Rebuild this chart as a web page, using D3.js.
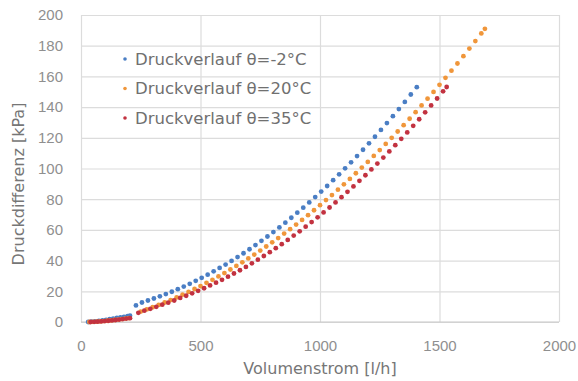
<!DOCTYPE html>
<html>
<head>
<meta charset="utf-8">
<script src="https://cdn.jsdelivr.net/npm/d3@7"></script>
<style>
  body { margin: 0; background: #fff; }
  svg { display: block; font-family: "Century Gothic", "DejaVu Sans", sans-serif; }
</style>
</head>
<body>
<div id="chart"></div>
<script>
// series names
const seriesNames = ["Druckverlauf θ=-2°C", "Druckverlauf θ=20°C", "Druckverlauf θ=35°C"];

// theta = -2 °C (blue)
const flowCold = [30, 45, 60, 75, 90, 105, 120, 135, 150, 165, 180, 195, 205,
  230, 255, 280, 305, 330, 355, 380, 405, 430, 455, 480, 505, 530, 555, 580, 605, 630, 655, 680,
  705, 730, 755, 780, 805, 830, 855, 880, 905, 930, 955, 980, 1005, 1030, 1055, 1080, 1105, 1130,
  1155, 1180, 1205, 1230, 1255, 1280, 1305, 1330, 1355, 1380, 1405];
const dpCold = [0, 0.2, 0.4, 0.7, 1.0, 1.4, 1.8, 2.2, 2.6, 3.0, 3.4, 3.8, 4.1,
  10.8, 12.7, 14.0, 15.3, 16.7, 18.2, 19.7, 21.4, 23.1, 24.9, 26.8, 28.8, 30.8, 33.0, 35.2, 37.4, 39.8, 42.3, 44.8,
  47.4, 50.1, 52.9, 55.7, 58.6, 61.6, 64.7, 67.9, 71.2, 74.5, 77.9, 81.4, 85.0, 88.6, 92.4, 96.2, 100.1, 104.0,
  108.1, 112.2, 116.4, 120.7, 125.1, 129.6, 134.1, 138.7, 143.4, 148.2, 153.0];

// theta = 20 °C (orange)
const flowMid = [35, 50, 65, 80, 95, 110, 125, 140, 155, 170, 185, 200,
  250, 275, 300, 325, 350, 375, 400, 425, 450, 475, 500, 525, 550, 575, 600, 625, 650, 675, 700,
  725, 750, 775, 800, 825, 850, 875, 900, 925, 950, 975, 1000, 1025, 1050, 1075, 1100, 1125, 1150,
  1175, 1200, 1225, 1250, 1275, 1300, 1325, 1350, 1375, 1400, 1425, 1450, 1475, 1500, 1525, 1550,
  1575, 1600, 1625, 1650, 1675, 1690];
const dpMid = [0, 0.1, 0.2, 0.4, 0.6, 0.8, 1.0, 1.3, 1.6, 1.9, 2.2, 2.5,
  6.8, 8.2, 9.6, 11.1, 12.7, 14.3, 16.0, 17.8, 19.6, 21.5, 23.4, 25.5, 27.5, 29.7, 31.9, 34.2, 36.5, 38.9, 41.4,
  43.9, 46.5, 49.2, 51.9, 54.7, 57.6, 60.5, 63.5, 66.5, 69.6, 72.8, 76.1, 79.4, 82.7, 86.2, 89.7, 93.2, 96.9,
  100.6, 104.3, 108.2, 112.0, 116.0, 120.0, 124.1, 128.2, 132.4, 136.7, 141.1, 145.5, 149.9, 154.5, 159.1, 163.7,
  168.4, 173.2, 178.1, 183.0, 188.0, 191.0];

// theta = 35 °C (red)
const flowHot = [40, 55, 70, 85, 100, 115, 130, 145, 160, 175, 190, 205,
  240, 265, 290, 315, 340, 365, 390, 415, 440, 465, 490, 515, 540, 565, 590, 615, 640, 665, 690,
  715, 740, 765, 790, 815, 840, 865, 890, 915, 940, 965, 990, 1015, 1040, 1065, 1090, 1115, 1140,
  1165, 1190, 1215, 1240, 1265, 1290, 1315, 1340, 1365, 1390, 1415, 1440, 1465, 1490, 1515, 1530];
const dpHot = [0, 0.1, 0.2, 0.4, 0.6, 0.8, 1.0, 1.3, 1.6, 1.9, 2.2, 2.5,
  6.0, 7.4, 8.6, 9.9, 11.3, 12.6, 14.0, 15.7, 17.1, 18.7, 20.3, 22.0, 23.8, 25.6, 27.5, 29.5, 31.6, 33.7, 35.9,
  38.2, 40.6, 43.0, 45.5, 48.1, 50.7, 53.5, 56.3, 59.1, 62.1, 65.1, 68.2, 71.4, 74.6, 77.9, 81.3, 84.8, 88.3,
  92.0, 95.6, 99.4, 103.2, 107.1, 111.1, 115.2, 119.3, 123.5, 127.8, 132.1, 136.6, 141.1, 145.6, 150.3, 153.1];

const xTicks = [0, 500, 1000, 1500, 2000];
const yTicks = [0, 20, 40, 60, 80, 100, 120, 140, 160, 180, 200];

const colors = ["#4a7ec4", "#f0963a", "#c23240"];

const W = 578, H = 381;
const margin = { left: 81, right: 19, top: 15, bottom: 59 };
const width = W - margin.left - margin.right;
const height = H - margin.top - margin.bottom;

const svg = d3.select("#chart").append("svg")
  .attr("width", W).attr("height", H);
const g = svg.append("g")
  .attr("transform", "translate(" + margin.left + "," + margin.top + ")");

const x = d3.scaleLinear().domain([0, 2000]).range([0, width]);
const y = d3.scaleLinear().domain([0, 200]).range([height, 0]);

// horizontal grid + y labels
const yAxis = g.append("g")
  .call(d3.axisLeft(y).tickValues(yTicks).tickSize(-width).tickPadding(18));
yAxis.select(".domain").remove();
yAxis.selectAll("line").attr("stroke", "#dcdcdc").attr("stroke-width", 1.2);
yAxis.selectAll("text").attr("fill", "#8f8f8f").style("font-size", "15px");

// vertical grid + x labels
const xAxis = g.append("g")
  .attr("transform", "translate(0," + height + ")")
  .call(d3.axisBottom(x).tickValues(xTicks).tickFormat(d3.format("d")).tickSize(-height).tickPadding(18));
xAxis.select(".domain").remove();
xAxis.selectAll("line").attr("stroke", "#dcdcdc").attr("stroke-width", 1.2);
xAxis.selectAll("text").attr("fill", "#8f8f8f").style("font-size", "15px");

// bottom axis line
g.append("line")
  .attr("x1", 0).attr("x2", width)
  .attr("y1", y(0)).attr("y2", y(0))
  .attr("stroke", "#c8c8c8").attr("stroke-width", 1.2);

// points
const series = [
  { flow: flowCold, dp: dpCold },
  { flow: flowMid, dp: dpMid },
  { flow: flowHot, dp: dpHot }
];
series.forEach((s, i) => {
  const pts = s.flow.map((f, j) => ({ f: f, p: s.dp[j] }));
  g.append("g").selectAll("circle")
    .data(pts)
    .enter()
    .append("circle")
    .attr("cx", d => x(d.f))
    .attr("cy", d => y(d.p))
    .attr("r", 2.4)
    .attr("fill", colors[i]);
});

// legend
const legend = g.append("g");
seriesNames.forEach((name, i) => {
  const ly = 44 + i * 29.5;
  legend.append("circle")
    .attr("cx", 44).attr("cy", ly).attr("r", 1.8)
    .attr("fill", colors[i]);
  legend.append("text")
    .attr("x", 54).attr("y", ly)
    .attr("dy", "0.35em")
    .attr("fill", "#707070")
    .style("font-size", "16.5px")
    .text(name);
});

// axis titles
svg.append("text")
  .attr("x", margin.left + x(1000)).attr("y", 374)
  .attr("text-anchor", "middle")
  .attr("fill", "#767676")
  .style("font-size", "16px")
  .text("Volumenstrom [l/h]");

svg.append("text")
  .attr("transform", "translate(24,184) rotate(-90)")
  .attr("text-anchor", "middle")
  .attr("fill", "#767676")
  .style("font-size", "16px")
  .text("Druckdifferenz [kPa]");
</script>
</body>
</html>
